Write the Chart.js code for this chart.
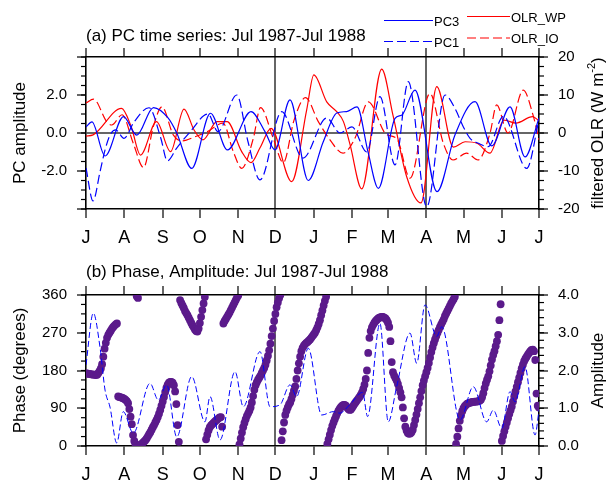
<!DOCTYPE html>
<html>
<head>
<meta charset="utf-8">
<title>PC time series and phase, Jul 1987-Jul 1988</title>
<script src="https://cdn.jsdelivr.net/npm/chart.js@4.4.1/dist/chart.umd.min.js"></script>
<style>
  html, body { margin: 0; padding: 0; background: #fff; }
  canvas { display: block; }
</style>
</head>
<body>
<canvas id="topChart" width="609" height="250"></canvas>
<canvas id="bottomChart" width="609" height="232"></canvas>
<script>
const FONT = "'Liberation Sans', Arial, sans-serif";

// x axis: days since 1 Jul 1987, ticks at the start of each month
const monthDays = [0, 31, 62, 92, 123, 153, 184, 215, 244, 275, 305, 336, 366];
const monthLabels = ['J', 'A', 'S', 'O', 'N', 'D', 'J', 'F', 'M', 'A', 'M', 'J', 'J'];
const markDays = [153, 275]; // dark vertical lines (Dec, Apr)

const pcTicks = [-4, -2, 0, 2, 4];
const pcTickLabels = ['', '-2.0', '0.0', '2.0', ''];
const olrTicks = [-20, -10, 0, 10, 20];
const olrTickLabels = ['-20', '-10', '0', '10', '20'];
const phaseTicks = [0, 90, 180, 270, 360];
const phaseTickLabels = ['0', '90', '180', '270', '360'];
const ampTicks = [0, 1, 2, 3, 4];
const ampTickLabels = ['0.0', '1.0', '2.0', '3.0', '4.0'];

// PC1 (dashed blue), read at turning points
const pc1Days = [0, 5.7, 11.3, 15.4, 19.4, 24.0, 30.7, 38.8, 50.9, 60.4, 65.7, 73.3, 84.0, 98.6, 106.6, 121.8,
  130.9, 140.6, 158.1, 175.3, 194.5, 205.2, 214.9, 226.8, 237.5, 249.7, 260.4, 275.3, 290.1, 298.1, 304.8,
  310.3, 317.0, 325.0, 337.2, 356.1, 366];
const pc1 = [-1.84, -3.58, -2.05, -0.89, -0.11, 0.16, -0.28, 0.58, 1.33, -0.26, -1.47, -0.79, 0.05, 1.0, 0.07, 2.0,
  -0.46, -2.47, 1.12, -1.32, 0.79, 0.0, 0.32, -1.0, 1.91, -1.68, 2.7, -3.88, 2.0, 1.3, 0.33,
  -0.28, -0.54, -0.72, 0.88, -1.86, 0.68];

// PC3 (solid blue)
const pc3Days = [0, 4.8, 15.4, 30.3, 41.0, 54.5, 66.3, 73.3, 85.4, 100.6, 114.3, 133.3, 144.6, 152.7, 164.8, 179.6,
  191.7, 202.6, 210.6, 219.0, 227.8, 236.2, 249.7, 255.3, 265.8, 283.6, 298.1, 314.3, 327.8, 342.6, 354.7, 366];
const pc3 = [0.32, 0.59, -1.21, 0.86, -0.11, 1.34, 0.79, 0, -1.86, 1.04, -0.89, 1.12, 0.07, -0.89, 1.74, -2.5,
  -0.46, 1.05, 1.13, 1.38, -0.98, -2.91, 0.77, 0.95, 2.26, -3.09, -0.1, 1.65, -0.68, 1.38, -1.26, 0.79];

// OLR_WP (solid red, W m-2, right axis)
const wpDays = [0, 5.7, 28.7, 36.4, 44.0, 57.0, 68.3, 79.2, 87.3, 94.5, 105.8, 114.0, 125.8, 133.3, 140.6, 149.5,
  166.2, 178.3, 184.1, 194.5, 202.6, 208.0, 213.3, 222.8, 238.9, 248.0, 259.1, 270.7, 283.4, 296.8, 306.3,
  315.9, 326.4, 337.7, 347.4, 360.8, 366];
const olrWP = [-0.8, -0.5, 6.5, 1.8, -5.8, 3.0, -4.9, 6.3, 0.8, -1.8, 3.0, 3.0, -4.9, -7.8, -3.9, 1.2,
  -12.8, 6.1, 15.3, 8.2, 5.6, 3.0, -3.0, -14.7, 16.8, 4.7, -11.5, -18.4, 12.2, -3.7, -2.3,
  -2.7, -5.3, 3.4, 2.6, 4.3, 3.2];

// OLR_IO (dashed red, W m-2, right axis)
const ioDays = [0, 6.1, 16.7, 20.8, 29.1, 38.2, 46.5, 54.4, 61.4, 70.5, 77.6, 88.1, 97.8, 110.7, 119.0, 125.8,
  135.2, 141.0, 151.3, 159.4, 168.1, 177.3, 187.7, 197.1, 207.6, 217.3, 228.1, 242.4, 251.3, 261.8, 277.9,
  288.7, 296.5, 307.6, 316.7, 326.4, 331.8, 340.9, 353.3, 361.2, 366];
const olrIO = [7.9, 8.9, 3.0, 2.1, 4.8, -2.7, -9.1, 1.7, 6.9, -0.5, -2.1, -1.0, 0.3, 2.6, -4.9, -9.3,
  -1.4, 6.7, -1.4, -7.8, 3.4, 9.3, 3.0, -1.8, -5.3, -1.4, 8.2, -0.3, -1.6, -11.9, 10.4,
  -2.7, -7.1, -5.3, -7.1, -0.1, 7.4, 0, 11.3, 4.7, -1.8];

// amplitude (dashed blue, right axis of panel b)
const ampDays = [0, 5.9, 11.3, 15.4, 19.4, 24.8, 30.1, 38.2, 51.7, 58.4, 65.2, 73.3, 85.4, 96.1, 100.2, 108.3,
  120.4, 127.1, 140.6, 148.7, 156.7, 164.8, 170.2, 179.6, 190.4, 199.8, 205.0, 213.0, 223.5, 227.5, 237.5,
  244.2, 251.0, 261.8, 267.2, 273.9, 283.4, 287.4, 302.2, 312.9, 323.7, 329.1, 335.9, 342.6, 346.6, 354.7,
  362.8, 366];
const amplitude = [2.15, 3.52, 2.62, 1.48, 1.03, 0.08, 0.91, 0.34, 1.66, 1.22, 1.62, 0.24, 1.84, 0.64, 1.31, 0.16,
  1.97, 1.04, 2.5, 1.04, 1.09, 1.62, 1.31, 2.59, 0.82, 0.91, 0.87, 1.09, 1.42, 0.78, 3.25,
  0.64, 1.57, 2.99, 2.19, 3.74, 2.9, 3.16, 0.69, 1.57, 0.64, 0.95, 0.47, 1.44, 1.17, 2.1,
  0.29, 0.95];

// phase in degrees, one value per day from 1 Jul 1987 (10 per row)
const phaseStep = 1;
const phaseDeg = [
  173, 173, 172, 172, 171, 171, 170, 170, 169, 170,
  174, 179, 185, 195, 213, 232, 246, 258, 265, 270,
  275, 280, 284, 287, 290, 292, 118, 117, 116, 115,
  114, 112, 110, 107, 102, 88, 70, 52, 26, 12,
  4, 357, 353, 1, 3, 5, 8, 11, 14, 18,
  23, 28, 33, 39, 45, 50, 56, 62, 69, 77,
  86, 96, 106, 117, 129, 139, 146, 151, 153, 153,
  151, 145, 130, 100, 50, 10, 348, 341, 335, 329,
  322, 317, 312, 306, 300, 294, 288, 283, 278, 274,
  273, 280, 293, 308, 324, 340, 355, 16, 27, 37,
  45, 49, 52, 55, 58, 61, 63, 66, 68, 69,
  46, 292, 298, 303, 308, 313, 318, 324, 330, 336,
  342, 348, 354, 359, 4, 18, 32, 45, 55, 64,
  72, 78, 84, 92, 104, 119, 134, 145, 152, 158,
  163, 168, 174, 180, 186, 194, 204, 215, 228, 244,
  262, 280, 298, 315, 331, 342, 352, 360, 14, 35,
  56, 74, 84, 92, 99, 104, 112, 122, 132, 142,
  160, 180, 197, 213, 226, 234, 239, 243, 246, 248,
  251, 254, 258, 262, 266, 270, 276, 283, 291, 300,
  312, 323, 335, 346, 356, 5, 16, 27, 38, 48,
  56, 64, 71, 78, 84, 89, 93, 96, 98, 98,
  96, 92, 88, 86, 87, 91, 96, 101, 105, 109,
  113, 117, 122, 128, 136, 146, 160, 180, 222, 258,
  274, 283, 289, 294, 298, 301, 304, 306, 307, 308,
  308, 306, 304, 300, 294, 284, 250, 200, 176, 168,
  162, 156, 148, 138, 128, 116, 92, 66, 46, 37,
  31, 29, 30, 33, 39, 50, 62, 75, 88, 102,
  116, 131, 145, 156, 166, 176, 186, 198, 211, 224,
  235, 245, 254, 262, 270, 277, 284, 290, 296, 302,
  310, 316, 322, 328, 334, 340, 345, 350, 356, 5,
  22, 42, 60, 73, 83, 90, 95, 98, 101, 102,
  103, 104, 105, 105, 106, 106, 106, 107, 108, 110,
  116, 126, 138, 149, 158, 166, 178, 192, 206, 217,
  226, 238, 250, 265, 300, 338, 12, 24, 35, 46,
  56, 66, 76, 85, 94, 106, 118, 130, 141, 152,
  163, 174, 185, 194, 202, 208, 213, 218, 222, 226,
  229, 230, 226, 205, 125, 96, 92
];

const pts = (xs, ys) => xs.map((x, i) => ({ x: x, y: ys[i] }));

// titles, rotated axis titles, minor ticks and the legend box
function drawRich(c, parts, cx, cy) {
  let total = 0;
  parts.forEach(p => { c.font = p[1] + 'px ' + FONT; total += c.measureText(p[0]).width; });
  c.save();
  c.translate(cx, cy);
  c.rotate(-Math.PI / 2);
  c.textAlign = 'left';
  c.textBaseline = 'middle';
  let x = -total / 2;
  parts.forEach(p => {
    c.font = p[1] + 'px ' + FONT;
    c.fillText(p[0], x, -p[2]);
    x += c.measureText(p[0]).width;
  });
  c.restore();
}

const decor = {
  id: 'decor',
  afterDraw(chart, args, opts) {
    const c = chart.ctx, a = chart.chartArea;
    c.save();
    c.strokeStyle = '#000';
    c.lineWidth = 1.2;
    opts.minor.forEach(m => {
      const s = chart.scales[m.id];
      const left = s.position === 'left';
      for (let v = s.min; v <= s.max + 1e-6; v += m.step) {
        const y = s.getPixelForValue(v);
        c.beginPath();
        c.moveTo(left ? a.left : a.right, y);
        c.lineTo(left ? a.left - m.len : a.right + m.len, y);
        c.stroke();
      }
    });
    c.fillStyle = '#000';
    c.font = '17px ' + FONT;
    c.textAlign = 'left';
    c.textBaseline = 'alphabetic';
    c.fillText(opts.title, a.left, opts.titleY);
    const mid = (a.top + a.bottom) / 2;
    drawRich(c, opts.leftTitle, 20, mid);
    drawRich(c, opts.rightTitle, 598, mid);
    if (opts.legend) {
      opts.legend.forEach(item => {
        const ds = chart.data.datasets[item.ds];
        c.strokeStyle = ds.borderColor;
        c.lineWidth = 1.2;
        c.setLineDash(ds.borderDash || []);
        c.beginPath();
        c.moveTo(item.x0, item.y);
        c.lineTo(item.x1, item.y);
        c.stroke();
        c.setLineDash([]);
        c.font = '13px ' + FONT;
        c.textBaseline = 'middle';
        c.fillText(ds.label, item.x1 + 1, item.y + 1.5);
      });
    }
    c.restore();
  }
};

function monthAxis(pos, showLabels, h, lines) {
  return {
    type: 'linear', position: pos, min: 0, max: 366,
    afterBuildTicks: s => { s.ticks = monthDays.map(v => ({ value: v })); },
    afterFit: s => { s.height = h; },
    grid: {
      drawOnChartArea: lines,
      color: ctx => (ctx.tick && markDays.includes(ctx.tick.value)) ? '#666' : 'rgba(0,0,0,0)',
      lineWidth: 2, tickColor: '#000', tickLength: 9, tickWidth: 1.2
    },
    border: { display: true, color: '#000', width: 1.6 },
    ticks: {
      display: showLabels, autoSkip: false, maxRotation: 0, padding: 9, color: '#000',
      font: { family: FONT, size: 18 },
      callback: (v, i) => monthLabels[i]
    }
  };
}

function valueAxis(pos, min, max, ticks, labels, zeroLine) {
  return {
    type: 'linear', position: pos, min: min, max: max,
    afterBuildTicks: s => { s.ticks = ticks.map(v => ({ value: v })); },
    afterFit: s => { s.width = pos === 'left' ? 86 : 70; },
    grid: {
      drawOnChartArea: zeroLine,
      color: ctx => (ctx.tick && ctx.tick.value === 0) ? '#666' : 'rgba(0,0,0,0)',
      lineWidth: 2, tickColor: '#000', tickLength: 9, tickWidth: 1.2
    },
    border: { display: true, color: '#000', width: 1.6 },
    ticks: {
      padding: 10, color: '#000', font: { family: FONT, size: 15 },
      callback: (v, i) => labels[i]
    }
  };
}

Chart.defaults.font.family = FONT;
Chart.defaults.color = '#000';

new Chart(document.getElementById('topChart'), {
  type: 'line',
  data: {
    datasets: [
      { label: 'PC3', data: pts(pc3Days, pc3), yAxisID: 'y', borderColor: '#0000ff', borderWidth: 1.2 },
      { label: 'PC1', data: pts(pc1Days, pc1), yAxisID: 'y', borderColor: '#0000ff', borderWidth: 1.2, borderDash: [9, 4] },
      { label: 'OLR_WP', data: pts(wpDays, olrWP), yAxisID: 'y1', borderColor: '#ff0000', borderWidth: 1.2 },
      { label: 'OLR_IO', data: pts(ioDays, olrIO), yAxisID: 'y1', borderColor: '#ff0000', borderWidth: 1.2, borderDash: [9, 4] }
    ]
  },
  options: {
    responsive: false, animation: false, devicePixelRatio: 1,
    layout: { padding: { top: 48, left: 0, right: 0, bottom: 0 } },
    elements: {
      point: { radius: 0 },
      line: { cubicInterpolationMode: 'monotone', fill: false }
    },
    plugins: {
      legend: { display: false },
      tooltip: { enabled: false },
      decor: {
        title: '(a) PC time series: Jul 1987-Jul 1988', titleY: 41,
        leftTitle: [['PC amplitude', 17, 0]],
        rightTitle: [['filtered OLR (W m', 17, 0], ['-2', 11, 6], [')', 17, 0]],
        minor: [{ id: 'y', step: 0.5, len: 5 }, { id: 'y1', step: 2.5, len: 5 }],
        legend: [
          { ds: 0, x0: 384, x1: 433, y: 20.5 },
          { ds: 1, x0: 384, x1: 433, y: 41.5 },
          { ds: 2, x0: 467, x1: 510, y: 16.5 },
          { ds: 3, x0: 467, x1: 510, y: 38 }
        ]
      }
    },
    scales: {
      x: monthAxis('bottom', true, 41, true),
      xTop: monthAxis('top', false, 9, false),
      y: valueAxis('left', -4, 4, pcTicks, pcTickLabels, true),
      y1: valueAxis('right', -20, 20, olrTicks, olrTickLabels, false)
    }
  },
  plugins: [decor]
});

new Chart(document.getElementById('bottomChart'), {
  type: 'line',
  data: {
    datasets: [
      {
        label: 'Amplitude', data: pts(ampDays, amplitude), yAxisID: 'y1',
        borderColor: '#0000ff', borderWidth: 1, borderDash: [6, 3], order: 0
      },
      {
        label: 'Phase', data: phaseDeg.map((p, i) => ({ x: i * phaseStep, y: p })), yAxisID: 'y',
        showLine: false, pointRadius: 3.9, pointBorderWidth: 0,
        pointBackgroundColor: '#5b1a8b', order: 1
      }
    ]
  },
  options: {
    responsive: false, animation: false, devicePixelRatio: 1,
    layout: { padding: { top: 36, left: 0, right: 0, bottom: 0 } },
    elements: {
      point: { radius: 0 },
      line: { cubicInterpolationMode: 'monotone', fill: false }
    },
    plugins: {
      legend: { display: false },
      tooltip: { enabled: false },
      decor: {
        title: '(b) Phase, Amplitude: Jul 1987-Jul 1988', titleY: 27,
        leftTitle: [['Phase (degrees)', 17, 0]],
        rightTitle: [['Amplitude', 17, 0]],
        minor: [{ id: 'y', step: 22.5, len: 5 }, { id: 'y1', step: 0.2, len: 5 }]
      }
    },
    scales: {
      x: monthAxis('bottom', true, 36, true),
      xTop: monthAxis('top', false, 9, false),
      y: valueAxis('left', 0, 360, phaseTicks, phaseTickLabels, false),
      y1: valueAxis('right', 0, 4, ampTicks, ampTickLabels, false)
    }
  },
  plugins: [decor]
});
</script>
</body>
</html>
